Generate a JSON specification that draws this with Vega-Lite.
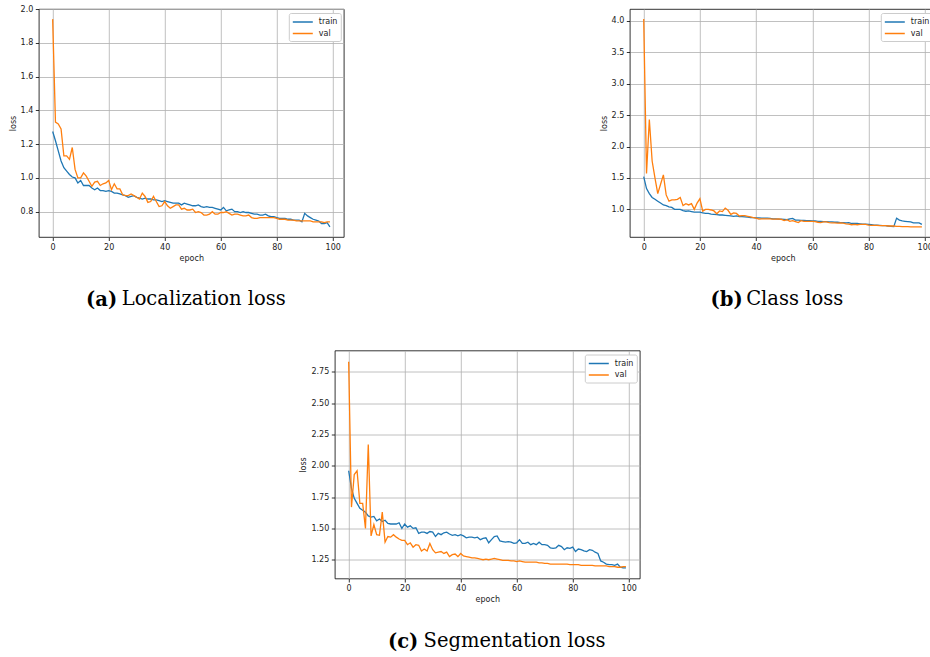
{
"$schema": "https://vega.github.io/schema/vega-lite/v6.json",
"background": "white",
"padding": {"left": 8.5, "top": 4, "right": 0, "bottom": 0},
"config": {
  "view": {"stroke": "black", "strokeWidth": 0.8},
  "axis": {"domain": false, "grid": true, "gridColor": "#b0b0b0", "gridWidth": 0.8, "tickColor": "black", "tickSize": 3.5, "tickWidth": 0.8, "labelFont": "DejaVu Sans", "labelFontSize": 8, "labelColor": "#222222", "labelPadding": 2.5, "titleFont": "DejaVu Sans", "titleFontSize": 8, "titleFontWeight": "normal", "titleColor": "#222222", "titlePadding": 3},
  "legend": {"orient": "top-right", "offset": 3.5, "labelFont": "DejaVu Sans", "labelFontSize": 8, "labelColor": "#222222", "symbolType": "M-1,0H3", "symbolSize": 100, "symbolStrokeWidth": 1.5, "strokeColor": "#cccccc", "fillColor": "white", "padding": 3, "cornerRadius": 2, "rowPadding": 1.5, "labelOffset": 15},
  "title": {"font": "DejaVu Serif", "fontSize": 19.5, "fontWeight": "bold", "color": "black", "orient": "bottom", "anchor": "start", "frame": "bounds", "offset": 28.5}
},
"datasets": {
"loc": [
{"epoch":0,"train":1.275,"val":1.94},{"epoch":1,"train":1.22,"val":1.33},{"epoch":2,"train":1.16,"val":1.32},{"epoch":3,"train":1.10,"val":1.29},{"epoch":4,"train":1.06,"val":1.13},{"epoch":5,"train":1.04,"val":1.13},{"epoch":6,"train":1.02,"val":1.11},{"epoch":7,"train":1.005,"val":1.18},{"epoch":8,"train":1.0,"val":1.05},{"epoch":9,"train":0.97,"val":1.0},
{"epoch":10,"train":0.985,"val":1.0},{"epoch":11,"train":0.955,"val":1.03},{"epoch":12,"train":0.955,"val":1.01},{"epoch":13,"train":0.955,"val":0.98},{"epoch":14,"train":0.94,"val":0.95},{"epoch":15,"train":0.93,"val":0.975},{"epoch":16,"train":0.94,"val":0.98},{"epoch":17,"train":0.925,"val":0.955},{"epoch":18,"train":0.925,"val":0.965},{"epoch":19,"train":0.92,"val":0.97},
{"epoch":20,"train":0.925,"val":0.985},{"epoch":21,"train":0.92,"val":0.93},{"epoch":22,"train":0.91,"val":0.965},{"epoch":23,"train":0.91,"val":0.935},{"epoch":24,"train":0.905,"val":0.935},{"epoch":25,"train":0.90,"val":0.90},{"epoch":26,"train":0.895,"val":0.895},{"epoch":27,"train":0.885,"val":0.895},{"epoch":28,"train":0.89,"val":0.905},{"epoch":29,"train":0.895,"val":0.895},
{"epoch":30,"train":0.885,"val":0.885},{"epoch":31,"train":0.88,"val":0.875},{"epoch":32,"train":0.875,"val":0.91},{"epoch":33,"train":0.88,"val":0.89},{"epoch":34,"train":0.875,"val":0.855},{"epoch":35,"train":0.875,"val":0.86},{"epoch":36,"train":0.87,"val":0.89},{"epoch":37,"train":0.87,"val":0.86},{"epoch":38,"train":0.865,"val":0.83},{"epoch":39,"train":0.86,"val":0.835},
{"epoch":40,"train":0.865,"val":0.86},{"epoch":41,"train":0.86,"val":0.835},{"epoch":42,"train":0.855,"val":0.82},{"epoch":43,"train":0.85,"val":0.83},{"epoch":44,"train":0.85,"val":0.84},{"epoch":45,"train":0.85,"val":0.84},{"epoch":46,"train":0.84,"val":0.815},{"epoch":47,"train":0.85,"val":0.82},{"epoch":48,"train":0.845,"val":0.81},{"epoch":49,"train":0.84,"val":0.81},
{"epoch":50,"train":0.835,"val":0.815},{"epoch":51,"train":0.835,"val":0.795},{"epoch":52,"train":0.84,"val":0.80},{"epoch":53,"train":0.83,"val":0.795},{"epoch":54,"train":0.825,"val":0.78},{"epoch":55,"train":0.83,"val":0.78},{"epoch":56,"train":0.825,"val":0.785},{"epoch":57,"train":0.825,"val":0.80},{"epoch":58,"train":0.82,"val":0.785},{"epoch":59,"train":0.815,"val":0.785},
{"epoch":60,"train":0.81,"val":0.795},{"epoch":61,"train":0.825,"val":0.795},{"epoch":62,"train":0.805,"val":0.80},{"epoch":63,"train":0.81,"val":0.79},{"epoch":64,"train":0.815,"val":0.78},{"epoch":65,"train":0.80,"val":0.785},{"epoch":66,"train":0.80,"val":0.785},{"epoch":67,"train":0.795,"val":0.78},{"epoch":68,"train":0.80,"val":0.775},{"epoch":69,"train":0.795,"val":0.775},
{"epoch":70,"train":0.795,"val":0.78},{"epoch":71,"train":0.79,"val":0.765},{"epoch":72,"train":0.785,"val":0.76},{"epoch":73,"train":0.785,"val":0.76},{"epoch":74,"train":0.78,"val":0.765},{"epoch":75,"train":0.78,"val":0.765},{"epoch":76,"train":0.785,"val":0.765},{"epoch":77,"train":0.775,"val":0.765},{"epoch":78,"train":0.77,"val":0.765},{"epoch":79,"train":0.77,"val":0.765},
{"epoch":80,"train":0.765,"val":0.76},{"epoch":81,"train":0.76,"val":0.755},{"epoch":82,"train":0.76,"val":0.755},{"epoch":83,"train":0.76,"val":0.755},{"epoch":84,"train":0.755,"val":0.75},{"epoch":85,"train":0.755,"val":0.75},{"epoch":86,"train":0.75,"val":0.75},{"epoch":87,"train":0.75,"val":0.745},{"epoch":88,"train":0.75,"val":0.745},{"epoch":89,"train":0.74,"val":0.745},
{"epoch":90,"train":0.79,"val":0.745},{"epoch":91,"train":0.775,"val":0.745},{"epoch":92,"train":0.765,"val":0.745},{"epoch":93,"train":0.755,"val":0.74},{"epoch":94,"train":0.75,"val":0.74},{"epoch":95,"train":0.745,"val":0.74},{"epoch":96,"train":0.73,"val":0.74},{"epoch":97,"train":0.73,"val":0.735},{"epoch":98,"train":0.735,"val":0.74},{"epoch":99,"train":0.71,"val":0.74}
],
"cls": [
{"epoch":0,"train":1.52,"val":4.03},{"epoch":1,"train":1.33,"val":1.57},{"epoch":2,"train":1.25,"val":2.43},{"epoch":3,"train":1.19,"val":1.77},{"epoch":4,"train":1.16,"val":1.50},{"epoch":5,"train":1.13,"val":1.25},{"epoch":6,"train":1.10,"val":1.40},{"epoch":7,"train":1.07,"val":1.55},{"epoch":8,"train":1.06,"val":1.23},{"epoch":9,"train":1.04,"val":1.13},
{"epoch":10,"train":1.03,"val":1.15},{"epoch":11,"train":1.0,"val":1.15},{"epoch":12,"train":1.0,"val":1.16},{"epoch":13,"train":1.0,"val":1.19},{"epoch":14,"train":0.98,"val":1.06},{"epoch":15,"train":0.97,"val":1.09},{"epoch":16,"train":0.975,"val":1.07},{"epoch":17,"train":0.965,"val":1.09},{"epoch":18,"train":0.955,"val":1.00},{"epoch":19,"train":0.955,"val":1.10},
{"epoch":20,"train":0.955,"val":1.17},{"epoch":21,"train":0.945,"val":0.97},{"epoch":22,"train":0.935,"val":1.0},{"epoch":23,"train":0.935,"val":1.0},{"epoch":24,"train":0.925,"val":0.99},{"epoch":25,"train":0.92,"val":0.975},{"epoch":26,"train":0.915,"val":0.93},{"epoch":27,"train":0.91,"val":0.975},{"epoch":28,"train":0.91,"val":0.965},{"epoch":29,"train":0.905,"val":1.02},
{"epoch":30,"train":0.90,"val":0.985},{"epoch":31,"train":0.895,"val":0.92},{"epoch":32,"train":0.89,"val":0.945},{"epoch":33,"train":0.895,"val":0.935},{"epoch":34,"train":0.885,"val":0.895},{"epoch":35,"train":0.885,"val":0.9},{"epoch":36,"train":0.88,"val":0.90},{"epoch":37,"train":0.875,"val":0.89},{"epoch":38,"train":0.87,"val":0.88},{"epoch":39,"train":0.87,"val":0.87},
{"epoch":40,"train":0.865,"val":0.86},{"epoch":41,"train":0.865,"val":0.845},{"epoch":42,"train":0.86,"val":0.85},{"epoch":43,"train":0.86,"val":0.85},{"epoch":44,"train":0.86,"val":0.85},{"epoch":45,"train":0.855,"val":0.85},{"epoch":46,"train":0.85,"val":0.845},{"epoch":47,"train":0.85,"val":0.845},{"epoch":48,"train":0.845,"val":0.85},{"epoch":49,"train":0.845,"val":0.84},
{"epoch":50,"train":0.84,"val":0.82},{"epoch":51,"train":0.835,"val":0.835},{"epoch":52,"train":0.85,"val":0.81},{"epoch":53,"train":0.855,"val":0.82},{"epoch":54,"train":0.83,"val":0.805},{"epoch":55,"train":0.83,"val":0.79},{"epoch":56,"train":0.825,"val":0.82},{"epoch":57,"train":0.825,"val":0.81},{"epoch":58,"train":0.82,"val":0.81},{"epoch":59,"train":0.82,"val":0.81},
{"epoch":60,"train":0.815,"val":0.81},{"epoch":61,"train":0.815,"val":0.805},{"epoch":62,"train":0.81,"val":0.795},{"epoch":63,"train":0.81,"val":0.79},{"epoch":64,"train":0.805,"val":0.80},{"epoch":65,"train":0.805,"val":0.80},{"epoch":66,"train":0.80,"val":0.79},{"epoch":67,"train":0.80,"val":0.785},{"epoch":68,"train":0.795,"val":0.785},{"epoch":69,"train":0.795,"val":0.78},
{"epoch":70,"train":0.79,"val":0.785},{"epoch":71,"train":0.79,"val":0.78},{"epoch":72,"train":0.785,"val":0.77},{"epoch":73,"train":0.79,"val":0.765},{"epoch":74,"train":0.775,"val":0.755},{"epoch":75,"train":0.775,"val":0.76},{"epoch":76,"train":0.775,"val":0.755},{"epoch":77,"train":0.77,"val":0.76},{"epoch":78,"train":0.765,"val":0.76},{"epoch":79,"train":0.765,"val":0.76},
{"epoch":80,"train":0.76,"val":0.75},{"epoch":81,"train":0.755,"val":0.745},{"epoch":82,"train":0.75,"val":0.745},{"epoch":83,"train":0.75,"val":0.745},{"epoch":84,"train":0.745,"val":0.74},{"epoch":85,"train":0.74,"val":0.74},{"epoch":86,"train":0.74,"val":0.74},{"epoch":87,"train":0.735,"val":0.735},{"epoch":88,"train":0.73,"val":0.735},{"epoch":89,"train":0.725,"val":0.735},
{"epoch":90,"train":0.86,"val":0.73},{"epoch":91,"train":0.83,"val":0.73},{"epoch":92,"train":0.815,"val":0.725},{"epoch":93,"train":0.81,"val":0.725},{"epoch":94,"train":0.805,"val":0.725},{"epoch":95,"train":0.80,"val":0.72},{"epoch":96,"train":0.785,"val":0.72},{"epoch":97,"train":0.785,"val":0.72},{"epoch":98,"train":0.785,"val":0.72},{"epoch":99,"train":0.76,"val":0.72}
],
"seg": [
{"epoch":0,"train":1.96,"val":2.83},{"epoch":1,"train":1.82,"val":1.67},{"epoch":2,"train":1.74,"val":1.93},{"epoch":3,"train":1.70,"val":1.96},{"epoch":4,"train":1.66,"val":1.70},{"epoch":5,"train":1.645,"val":1.70},{"epoch":6,"train":1.63,"val":1.50},{"epoch":7,"train":1.60,"val":2.17},{"epoch":8,"train":1.59,"val":1.44},{"epoch":9,"train":1.595,"val":1.53},
{"epoch":10,"train":1.56,"val":1.45},{"epoch":11,"train":1.575,"val":1.445},{"epoch":12,"train":1.555,"val":1.63},{"epoch":13,"train":1.565,"val":1.39},{"epoch":14,"train":1.54,"val":1.435},{"epoch":15,"train":1.535,"val":1.43},{"epoch":16,"train":1.535,"val":1.45},{"epoch":17,"train":1.535,"val":1.43},{"epoch":18,"train":1.545,"val":1.415},{"epoch":19,"train":1.50,"val":1.405},
{"epoch":20,"train":1.535,"val":1.405},{"epoch":21,"train":1.51,"val":1.37},{"epoch":22,"train":1.52,"val":1.385},{"epoch":23,"train":1.50,"val":1.35},{"epoch":24,"train":1.505,"val":1.37},{"epoch":25,"train":1.46,"val":1.365},{"epoch":26,"train":1.47,"val":1.32},{"epoch":27,"train":1.47,"val":1.335},{"epoch":28,"train":1.46,"val":1.32},{"epoch":29,"train":1.475,"val":1.38},
{"epoch":30,"train":1.47,"val":1.33},{"epoch":31,"train":1.435,"val":1.305},{"epoch":32,"train":1.46,"val":1.31},{"epoch":33,"train":1.45,"val":1.315},{"epoch":34,"train":1.465,"val":1.30},{"epoch":35,"train":1.47,"val":1.31},{"epoch":36,"train":1.455,"val":1.275},{"epoch":37,"train":1.445,"val":1.29},{"epoch":38,"train":1.45,"val":1.295},{"epoch":39,"train":1.44,"val":1.275},
{"epoch":40,"train":1.45,"val":1.30},{"epoch":41,"train":1.44,"val":1.28},{"epoch":42,"train":1.425,"val":1.275},{"epoch":43,"train":1.43,"val":1.27},{"epoch":44,"train":1.43,"val":1.265},{"epoch":45,"train":1.425,"val":1.265},{"epoch":46,"train":1.43,"val":1.26},{"epoch":47,"train":1.41,"val":1.255},{"epoch":48,"train":1.42,"val":1.25},{"epoch":49,"train":1.425,"val":1.255},
{"epoch":50,"train":1.385,"val":1.25},{"epoch":51,"train":1.41,"val":1.255},{"epoch":52,"train":1.435,"val":1.26},{"epoch":53,"train":1.44,"val":1.255},{"epoch":54,"train":1.40,"val":1.25},{"epoch":55,"train":1.395,"val":1.245},{"epoch":56,"train":1.39,"val":1.245},{"epoch":57,"train":1.395,"val":1.245},{"epoch":58,"train":1.39,"val":1.24},{"epoch":59,"train":1.38,"val":1.24},
{"epoch":60,"train":1.385,"val":1.235},{"epoch":61,"train":1.41,"val":1.24},{"epoch":62,"train":1.38,"val":1.235},{"epoch":63,"train":1.38,"val":1.23},{"epoch":64,"train":1.39,"val":1.23},{"epoch":65,"train":1.37,"val":1.23},{"epoch":66,"train":1.38,"val":1.23},{"epoch":67,"train":1.37,"val":1.23},{"epoch":68,"train":1.39,"val":1.225},{"epoch":69,"train":1.37,"val":1.225},
{"epoch":70,"train":1.37,"val":1.22},{"epoch":71,"train":1.365,"val":1.22},{"epoch":72,"train":1.345,"val":1.215},{"epoch":73,"train":1.34,"val":1.215},{"epoch":74,"train":1.345,"val":1.215},{"epoch":75,"train":1.365,"val":1.215},{"epoch":76,"train":1.355,"val":1.215},{"epoch":77,"train":1.33,"val":1.215},{"epoch":78,"train":1.345,"val":1.215},{"epoch":79,"train":1.34,"val":1.21},
{"epoch":80,"train":1.35,"val":1.21},{"epoch":81,"train":1.315,"val":1.21},{"epoch":82,"train":1.335,"val":1.21},{"epoch":83,"train":1.33,"val":1.205},{"epoch":84,"train":1.32,"val":1.205},{"epoch":85,"train":1.315,"val":1.205},{"epoch":86,"train":1.33,"val":1.205},{"epoch":87,"train":1.325,"val":1.205},{"epoch":88,"train":1.31,"val":1.2},{"epoch":89,"train":1.30,"val":1.2},
{"epoch":90,"train":1.24,"val":1.2},{"epoch":91,"train":1.23,"val":1.2},{"epoch":92,"train":1.215,"val":1.2},{"epoch":93,"train":1.21,"val":1.195},{"epoch":94,"train":1.21,"val":1.195},{"epoch":95,"train":1.205,"val":1.195},{"epoch":96,"train":1.215,"val":1.19},{"epoch":97,"train":1.19,"val":1.19},{"epoch":98,"train":1.185,"val":1.195},{"epoch":99,"train":1.185,"val":1.195}
]
},
"vconcat": [
  {
    "hconcat": [
      {
        "vconcat": [
          {
            "width": 305, "height": 228,
            "data": {"name": "loc"},
            "transform": [{"fold": ["train", "val"], "as": ["series", "loss"]}],
            "mark": {"type": "line", "strokeWidth": 1.3, "clip": true},
            "encoding": {
              "x": {"field": "epoch", "type": "quantitative", "scale": {"domain": [-4.95, 103.95], "nice": false, "zero": false}, "axis": {"title": "epoch", "values": [0, 20, 40, 60, 80, 100]}},
              "y": {"field": "loss", "type": "quantitative", "scale": {"domain": [0.65, 2.0], "nice": false, "zero": false}, "axis": {"title": "loss", "values": [0.8, 1.0, 1.2, 1.4, 1.6, 1.8, 2.0], "format": ".1f"}},
              "color": {"field": "series", "type": "nominal", "scale": {"domain": ["train", "val"], "range": ["#1f77b4", "#ff7f0e"]}, "legend": {"title": null}}
            },
            "title": {"text": "(a)", "dx": 77}
          }
        ],
        "title": {"text": "Localization loss", "fontWeight": "normal", "dx": 113, "offset": -19.5},
        "resolve": {"scale": {"color": "independent"}, "legend": {"color": "independent"}}
      },
      {
        "vconcat": [
          {
            "width": 306, "height": 228,
            "data": {"name": "cls"},
            "transform": [{"fold": ["train", "val"], "as": ["series", "loss"]}],
            "mark": {"type": "line", "strokeWidth": 1.3, "clip": true},
            "encoding": {
              "x": {"field": "epoch", "type": "quantitative", "scale": {"domain": [-4.95, 103.95], "nice": false, "zero": false}, "axis": {"title": "epoch", "values": [0, 20, 40, 60, 80, 100]}},
              "y": {"field": "loss", "type": "quantitative", "scale": {"domain": [0.56, 4.19], "nice": false, "zero": false}, "axis": {"title": "loss", "values": [1.0, 1.5, 2.0, 2.5, 3.0, 3.5, 4.0], "format": ".1f"}},
              "color": {"field": "series", "type": "nominal", "scale": {"domain": ["train", "val"], "range": ["#1f77b4", "#ff7f0e"]}, "legend": {"title": null}}
            },
            "title": {"text": "(b)", "dx": 110.5}
          }
        ],
        "title": {"text": "Class loss", "fontWeight": "normal", "dx": 146.5, "offset": -19.5},
        "resolve": {"scale": {"color": "independent"}, "legend": {"color": "independent"}}
      }
    ],
    "spacing": 254,
    "resolve": {"scale": {"color": "independent"}, "legend": {"color": "independent"}}
  },
  {
    "vconcat": [
      {
        "width": 305, "height": 228,
        "data": {"name": "seg"},
        "transform": [{"fold": ["train", "val"], "as": ["series", "loss"]}],
        "mark": {"type": "line", "strokeWidth": 1.3, "clip": true},
        "encoding": {
          "x": {"field": "epoch", "type": "quantitative", "scale": {"domain": [-4.95, 103.95], "nice": false, "zero": false}, "axis": {"title": "epoch", "values": [0, 20, 40, 60, 80, 100]}},
          "y": {"field": "loss", "type": "quantitative", "scale": {"domain": [1.10, 2.92], "nice": false, "zero": false}, "axis": {"title": "loss", "values": [1.25, 1.5, 1.75, 2.0, 2.25, 2.5, 2.75], "format": ".2f"}},
          "color": {"field": "series", "type": "nominal", "scale": {"domain": ["train", "val"], "range": ["#1f77b4", "#ff7f0e"]}, "legend": {"title": null}}
        },
        "title": {"text": "(c)", "dx": 88, "offset": 29.5}
      }
    ],
    "title": {"text": "Segmentation loss", "fontWeight": "normal", "dx": 124, "offset": -19.5},
    "resolve": {"scale": {"color": "independent"}, "legend": {"color": "independent"}}
  }
],
"spacing": 39.5,
"center": true,
"resolve": {"scale": {"color": "independent"}, "legend": {"color": "independent"}}
}
